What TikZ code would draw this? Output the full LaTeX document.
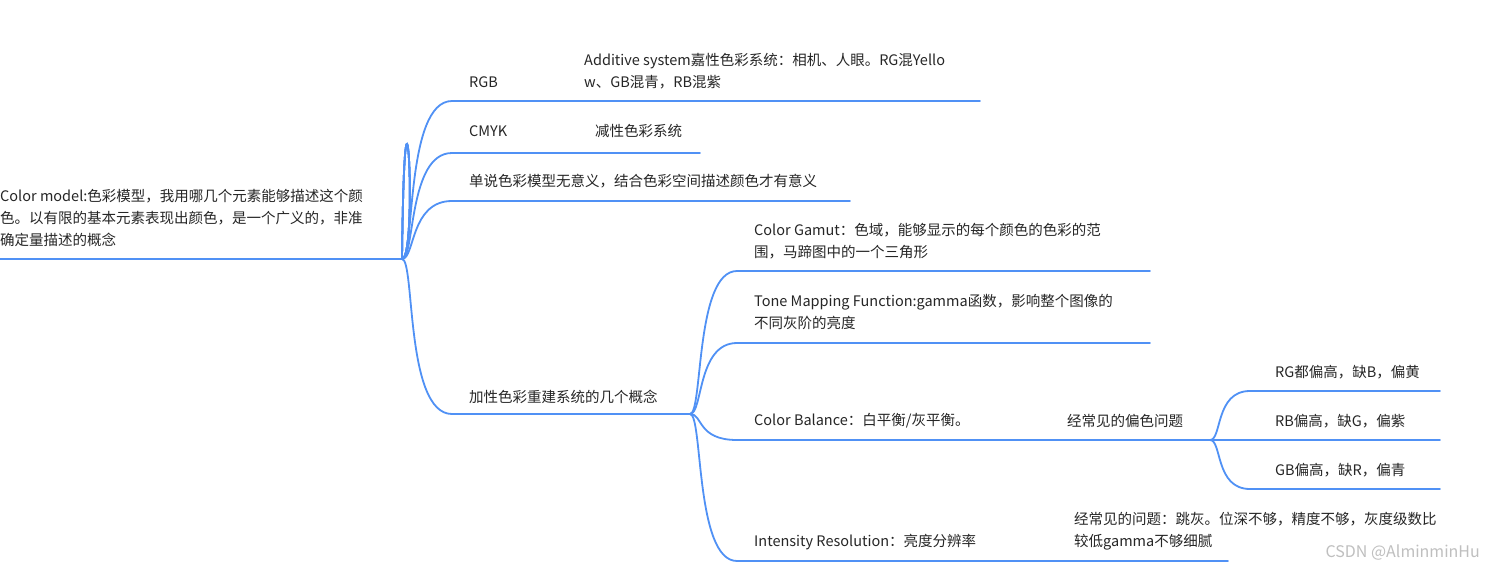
\documentclass[tikz,border=0pt]{standalone}
\usepackage{fontspec}
\setmainfont{Noto Sans CJK SC}
\begin{document}
\begin{tikzpicture}[x=1pt,y=-1pt,
  lbl/.style={anchor=west,inner sep=0pt,font=\fontsize{14.5}{22}\selectfont,text=black!85},
  ln/.style={draw=blue!55!cyan!80!black,line width=1.8pt,line cap=round},
  ln/.style={draw={rgb,255:red,80;green,145;blue,245},line width=1.8pt,line cap=round}]
\useasboundingbox[fill=white] (0,0) rectangle (1485,581);
% root
\node[lbl,align=left] (root) at (0,218) {Color model:色彩模型，我用哪几个元素能够描述这个颜\\色。以有限的基本元素表现出颜色，是一个广义的，非准\\确定量描述的概念};
\coordinate (r0) at (0,259); \coordinate (r1) at (402,259);
\draw[ln] (r0) -- (r1);
% level 1
\node[lbl] (rgb) at (469,82) {RGB};
\node[lbl,align=left] (add) at (584,71) {Additive system嘉性色彩系统：相机、人眼。RG混Yello\\w、GB混青，RB混紫};
\node[lbl] (cmyk) at (469,131) {CMYK};
\node[lbl] (sub) at (595,131) {减性色彩系统};
\node[lbl] (dan) at (469,181) {单说色彩模型无意义，结合色彩空间描述颜色才有意义};
\node[lbl] (jia) at (469,397) {加性色彩重建系统的几个概念};
\coordinate (a1) at (452,101); \coordinate (a1e) at (980,101);
\coordinate (a2) at (452,153); \coordinate (a2e) at (700,153);
\coordinate (a3) at (452,201); \coordinate (a3e) at (850,201);
\coordinate (a4) at (452,414); \coordinate (a4e) at (690,414);
\foreach \t/\e in {a1/a1e,a2/a2e,a3/a3e,a4/a4e}{
  \draw[ln] (r1) .. controls (418,259) and (405,\ifx\t\t0\fi 0) .. (r1);
}
\draw[ln] (r1) .. controls (415,259) and (405,101) .. (a1) -- (a1e);
\draw[ln] (r1) .. controls (415,259) and (408,153) .. (a2) -- (a2e);
\draw[ln] (r1) .. controls (415,259) and (410,201) .. (a3) -- (a3e);
\draw[ln] (r1) .. controls (415,259) and (405,414) .. (a4) -- (a4e);
% level 2
\node[lbl,align=left] (gam) at (754,241) {Color Gamut：色域，能够显示的每个颜色的色彩的范\\围，马蹄图中的一个三角形};
\node[lbl,align=left] (tone) at (754,312) {Tone Mapping Function:gamma函数，影响整个图像的\\不同灰阶的亮度};
\node[lbl] (bal) at (754,421) {Color Balance：白平衡/灰平衡。};
\node[lbl] (bal2) at (1067,421) {经常见的偏色问题};
\node[lbl] (int) at (754,542) {Intensity Resolution：亮度分辨率};
\node[lbl,align=left] (int2) at (1074,531) {经常见的问题：跳灰。位深不够，精度不够，灰度级数比\\较低gamma不够细腻};
\coordinate (b1) at (737,271); \coordinate (b1e) at (1150,271);
\coordinate (b2) at (737,343); \coordinate (b2e) at (1150,343);
\coordinate (b3) at (737,440); \coordinate (b3e) at (1210,440);
\coordinate (b4) at (737,561); \coordinate (b4e) at (1228,561);
\draw[ln] (a4e) .. controls (703,414) and (695,271) .. (b1) -- (b1e);
\draw[ln] (a4e) .. controls (703,414) and (697,343) .. (b2) -- (b2e);
\draw[ln] (a4e) .. controls (703,414) and (697,440) .. (b3) -- (b3e);
\draw[ln] (a4e) .. controls (703,414) and (695,561) .. (b4) -- (b4e);
% level 3
\node[lbl] (c1) at (1275,372) {RG都偏高，缺B，偏黄};
\node[lbl] (c2) at (1275,421) {RB偏高，缺G，偏紫};
\node[lbl] (c3) at (1275,470) {GB偏高，缺R，偏青};
\coordinate (d1) at (1250,391); \coordinate (d1e) at (1440,391);
\coordinate (d2) at (1250,440); \coordinate (d2e) at (1440,440);
\coordinate (d3) at (1250,489); \coordinate (d3e) at (1440,489);
\draw[ln] (b3e) .. controls (1222,440) and (1215,391) .. (d1) -- (d1e);
\draw[ln] (b3e) -- (d2) -- (d2e);
\draw[ln] (b3e) .. controls (1222,440) and (1215,489) .. (d3) -- (d3e);
\node[anchor=east,inner sep=0pt,font=\fontsize{16}{18}\selectfont,text=black!25] (wm) at (1480,553) {CSDN @AlminminHu};
\end{tikzpicture}
\end{document}
